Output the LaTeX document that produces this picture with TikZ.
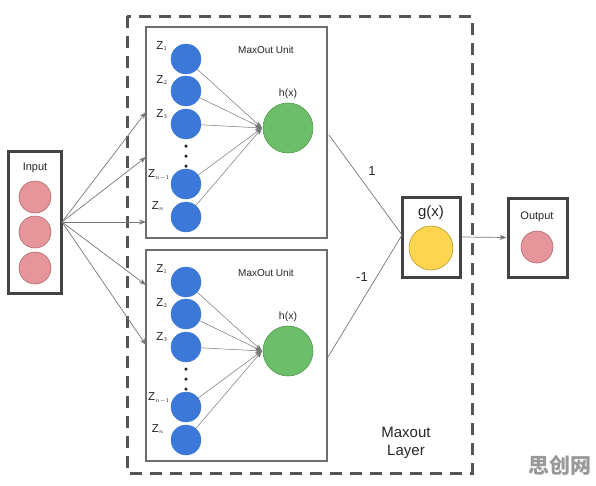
\documentclass[tikz,border=0pt]{standalone}
\usepackage{fontspec}
\setmainfont{Liberation Sans}
\newfontfamily\cjk{Noto Sans CJK SC}
\usetikzlibrary{arrows.meta}
\definecolor{boxdark}{HTML}{444444}
\definecolor{boxgray}{HTML}{6E6E6E}
\definecolor{linegray}{HTML}{777777}
\definecolor{pinkfill}{HTML}{E6959A}
\definecolor{pinkline}{HTML}{B06A70}
\definecolor{bluefill}{HTML}{3C78D8}
\definecolor{greenfill}{HTML}{6DBE6B}
\definecolor{greenline}{HTML}{4E9A4C}
\definecolor{yellowfill}{HTML}{FFD54F}
\definecolor{yellowline}{HTML}{B89A2E}
\definecolor{dashgray}{HTML}{555555}
\tikzset{
  thickbox/.style={draw=boxdark, line width=3pt, fill=white, inner sep=0pt},
  unitbox/.style={draw=boxgray, line width=1.5pt, fill=white, inner sep=0pt, minimum width=181pt, minimum height=211pt},
  pinkdot/.style={circle, draw=pinkline, line width=0.6pt, fill=pinkfill, minimum size=32pt, inner sep=0pt},
  bluedot/.style={circle, fill=bluefill, draw=bluefill, minimum size=30pt, inner sep=0pt},
  greendot/.style={circle, fill=greenfill, draw=greenline, line width=0.6pt, minimum size=50pt, inner sep=0pt},
  yellowdot/.style={circle, fill=yellowfill, draw=yellowline, line width=0.6pt, minimum size=44pt, inner sep=0pt},
  smalldot/.style={circle, fill=black!85, inner sep=0pt, minimum size=3.5pt},
  conn/.style={draw=linegray, line width=0.7pt},
  arr/.style={conn, -{Stealth[length=7pt, width=5pt]}},
  zlab/.style={font=\fontsize{11.5}{13}\selectfont, text=black!85, inner sep=0pt},
  lab/.style={inner sep=0pt, text=black!85},
}
\newcommand{\zz}[1]{Z$_{\scriptscriptstyle #1}$}
\begin{document}
\begin{tikzpicture}[x=1pt, y=-1pt]
\useasboundingbox[fill=white] (0,0) rectangle (596,485);

% dashed maxout layer
\draw[dashgray, line width=3pt, dash pattern=on 12pt off 8pt] (127,16) rectangle (472,473);

% input
\node[thickbox, minimum width=53pt, minimum height=142pt] (inbox) at (35,222) {};
\node[lab, font=\fontsize{11}{13}\selectfont] (inlab) at (35,168) {Input};
\node[pinkdot] (p1) at (35,197) {};
\node[pinkdot] (p2) at (35,232) {};
\node[pinkdot] (p3) at (35,268) {};
\coordinate (src) at (62,222);

% units
\foreach \u/\dy in {1/0, 2/223} {
  \node[unitbox] (u\u) at (236.5,132.5+\dy) {};
  \node[lab, font=\fontsize{10}{12}\selectfont] (mu\u) at (266,50+\dy) {MaxOut Unit};
  \node[lab, font=\fontsize{10.5}{12}\selectfont] (hl\u) at (288,94+\dy) {h(x)};
  \node[greendot] (g\u) at (288,128+\dy) {};
  \coordinate (t\u) at (262,128+\dy);
  \node[bluedot] (b\u a) at (186,59+\dy) {};
  \node[bluedot] (b\u b) at (186,91+\dy) {};
  \node[bluedot] (b\u c) at (186,124+\dy) {};
  \node[bluedot] (b\u d) at (186,184+\dy) {};
  \node[bluedot] (b\u e) at (186,217+\dy) {};
  \node[smalldot] (d\u a) at (186,146+\dy) {};
  \node[smalldot] (d\u b) at (186,156+\dy) {};
  \node[smalldot] (d\u c) at (186,166+\dy) {};
  \node[zlab] (z\u a) at (162,46+\dy) {\zz{1}};
  \node[zlab] (z\u b) at (162,80+\dy) {\zz{2}};
  \node[zlab] (z\u c) at (162,114+\dy) {\zz{3}};
  \node[zlab] (z\u d) at (159,175+\dy) {\zz{n-1}};
  \node[zlab] (z\u e) at (158,206+\dy) {\zz{n}};
  \foreach \k in {a,b,c,d,e} {
    \draw[arr, line width=0.5pt] (b\u\k) -- (t\u);
  }
}

% input arrows
\coordinate (ia) at (146,112);
\coordinate (ib) at (146,157);
\coordinate (ic) at (146,222);
\coordinate (id) at (146,285);
\coordinate (ie) at (146,345);
\foreach \k in {ia,ib,ic,id,ie} { \draw[arr] (src) -- (\k); }

% g(x)
\node[thickbox, minimum width=58pt, minimum height=80pt] (gbox) at (431,237) {};
\node[lab, font=\fontsize{15}{17}\selectfont] (glab) at (431,213) {g(x)};
\node[yellowdot] (y1) at (431,248) {};
\coordinate (gin) at (402,235);
\coordinate (o1) at (329,135);
\coordinate (o2) at (328,357);
\draw[conn] (o1) -- (gin);
\draw[conn] (o2) -- (gin);
\node[lab, font=\fontsize{13}{15}\selectfont] (w1) at (372,171) {1};
\node[lab, font=\fontsize{13}{15}\selectfont] (w2) at (362,277) {-1};

% output
\node[thickbox, minimum width=59pt, minimum height=79pt] (outbox) at (537.5,237.5) {};
\node[lab, font=\fontsize{11}{13}\selectfont] (olab) at (537,217) {Output};
\node[pinkdot] (op) at (537,247) {};
\draw[arr] (gbox.east) -- (outbox.west);

% layer label
\node[lab, font=\fontsize{15}{18}\selectfont, align=center] (ml) at (406,443) {Maxout\\Layer};

% watermark
\node[lab, text=black!40, font=\cjk\bfseries\fontsize{21}{23}\selectfont] (wm) at (560,465) {思创网};
\end{tikzpicture}
\end{document}
